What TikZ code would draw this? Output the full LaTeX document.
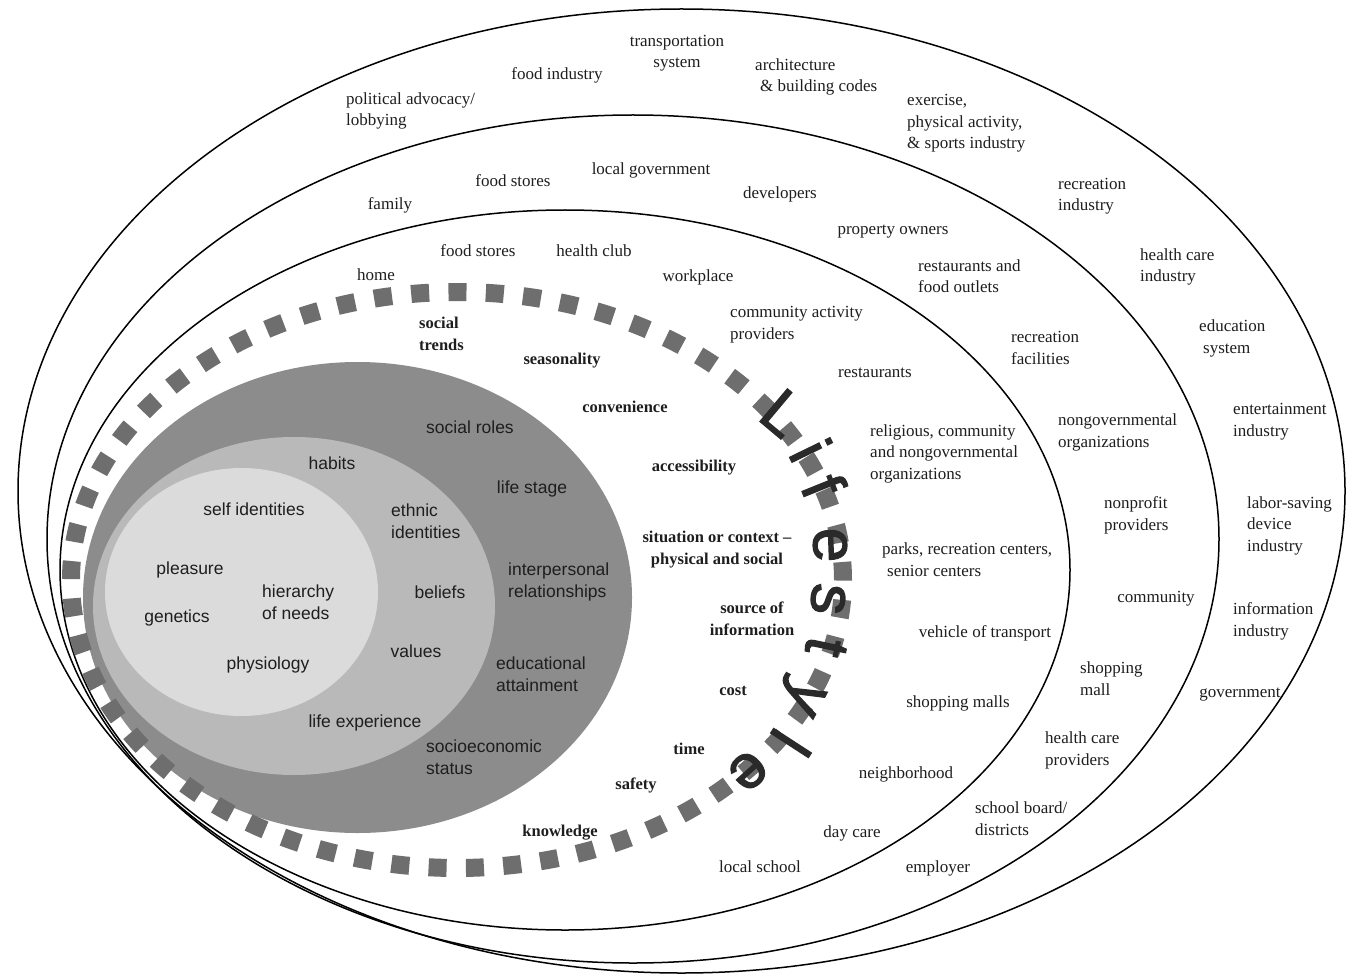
\documentclass[tikz,border=0pt]{standalone}
\usepackage{fontspec}
\setmainfont{Liberation Serif}
\setsansfont{Liberation Sans}
\newfontfamily\lifefont{Liberation Sans}[FakeBold=2]
\definecolor{inkc}{HTML}{1E1E1E}
\definecolor{zonedark}{HTML}{8C8C8C}
\definecolor{zonemid}{HTML}{B9B9B9}
\definecolor{zonelight}{HTML}{DBDBDB}
\definecolor{sqgray}{HTML}{6E6E6E}
\definecolor{letterc}{HTML}{2A2A2A}
\begin{document}
\begin{tikzpicture}[x=1pt,y=-1pt,
  boundary/.style={draw=black, line width=1.5pt},
  lab/.style={inner sep=0pt, text=inkc, font=\fontsize{17}{21.5}\selectfont},
  blab/.style={inner sep=0pt, text=inkc, font=\fontsize{16.5}{21.5}\selectfont\bfseries},
  slab/.style={inner sep=0pt, text=inkc, font=\sffamily\fontsize{17.5}{22}\selectfont},
  lw/.style={anchor=base west, align=left},
  lc/.style={anchor=base, align=center},
  glyph/.style={inner sep=0pt, text=letterc, font=\lifefont\fontsize{62}{62}\selectfont},
  squares/.style={draw=sqgray, line width=18pt, dash pattern=on 18pt off 19.34pt}
]
\useasboundingbox (0,0) rectangle (1354,976);
\fill[white] (0,0) rectangle (1354,976);

% nested rings of influence
\draw[boundary] (681.5,491) ellipse [x radius=663.5pt, y radius=482pt];
\draw[boundary] (633,539) ellipse [x radius=586pt, y radius=424pt];
\draw[boundary] (565,570) ellipse [x radius=505pt, y radius=360pt];

% individual factors: shaded core
\fill[zonedark] (357.5,597.5) ellipse [x radius=274.5pt, y radius=235.5pt];
\fill[zonemid] (294,606) ellipse [x radius=201pt, y radius=169pt];
\fill[zonelight] (241.5,592) ellipse [x radius=136.5pt, y radius=124pt];

% lifestyle ring of squares
\draw[squares] (457,580) ellipse [x radius=386pt, y radius=288pt];

% outer ring: macro-level sectors (multi-line nodes sit on their last baseline)
\node[lab,lc] (transp) at (677,68) {transportation\\system};
\node[lab,lc] (foodind) at (557,80) {food industry};
\node[lab,lw] (archi) at (755,92) {architecture\\\hspace{5pt}\& building codes};
\node[lab,lw] (politic) at (346,126) {political advocacy/\\lobbying};
\node[lab,lw] (exerc) at (907,149) {exercise,\\physical activity,\\\& sports industry};
\node[lab,lw] (recind) at (1058,211) {recreation\\industry};
\node[lab,lw] (hcind) at (1140,282) {health care\\industry};
\node[lab,lw] (edusys) at (1199,353) {education\\\hspace{4pt}system};
\node[lab,lw] (entind) at (1233,436) {entertainment\\industry};
\node[lab,lw] (labor) at (1247,551) {labor-saving\\device\\industry};
\node[lab,lw] (infoind) at (1233,636) {information\\industry};
\node[lab,lc] (govt) at (1240,697) {government};

% middle ring: community-level settings
\node[lab,lc] (localgov) at (651,175) {local government};
\node[lab,lc] (fstores2) at (513,187) {food stores};
\node[lab,lc] (family) at (390,210) {family};
\node[lab,lc] (develop) at (780,199) {developers};
\node[lab,lc] (propown) at (893,235) {property owners};
\node[lab,lw] (restfood) at (918,293) {restaurants and\\food outlets};
\node[lab,lw] (recfac) at (1011,364) {recreation\\facilities};
\node[lab,lw] (ngo) at (1058,447) {nongovernmental\\organizations};
\node[lab,lw] (nonprof) at (1104,530) {nonprofit\\providers};
\node[lab,lc] (commun) at (1156,602) {community};
\node[lab,lw] (shopmall) at (1080,695) {shopping\\mall};
\node[lab,lw] (hcprov) at (1045,765) {health care\\providers};
\node[lab,lw] (school) at (975,835) {school board/\\districts};
\node[lab,lc] (employer) at (938,872) {employer};

% inner ring: immediate settings
\node[lab,lc] (home) at (376,280) {home};
\node[lab,lc] (fstores1) at (478,257) {food stores};
\node[lab,lc] (hclub) at (594,257) {health club};
\node[lab,lc] (workpl) at (698,282) {workplace};
\node[lab,lw] (commact) at (730,339) {community activity\\providers};
\node[lab,lc] (rest) at (875,377) {restaurants};
\node[lab,lw] (relig) at (870,479) {religious, community\\and nongovernmental\\organizations};
\node[lab,lw] (parks) at (882,576) {parks, recreation centers,\\\hspace{5pt}senior centers};
\node[lab,lc] (vehicle) at (985,637) {vehicle of transport};
\node[lab,lc] (malls) at (958,707) {shopping malls};
\node[lab,lc] (neighb) at (906,778) {neighborhood};
\node[lab,lc] (daycare) at (852,837) {day care};
\node[lab,lc] (lschool) at (760,872) {local school};

% lifestyle conditions
\node[blab,lw] (trends) at (419,350) {social\\trends};
\node[blab,lc] (season) at (562,364) {seasonality};
\node[blab,lc] (conven) at (625,412) {convenience};
\node[blab,lc] (access) at (694,471) {accessibility};
\node[blab,lc] (situ) at (717,564) {situation or context --\\physical and social};
\node[blab,lc] (source) at (752,635) {source of\\information};
\node[blab,lc] (cost) at (733,695) {cost};
\node[blab,lc] (time) at (689,754) {time};
\node[blab,lc] (safety) at (636,789) {safety};
\node[blab,lc] (knowl) at (560,836) {knowledge};

% individual factors
\node[slab,lc] (sroles) at (470,433) {social roles};
\node[slab,lc] (habits) at (332,469) {habits};
\node[slab,lc] (lstage) at (532,493) {life stage};
\node[slab,lc] (selfid) at (254,515) {self identities};
\node[slab,lw] (ethnic) at (391,538) {ethnic\\identities};
\node[slab,lc] (pleas) at (190,574) {pleasure};
\node[slab,lw] (interp) at (508,597) {interpersonal\\relationships};
\node[slab,lw] (hier) at (262,619) {hierarchy\\of needs};
\node[slab,lc] (beliefs) at (440,598) {beliefs};
\node[slab,lc] (genet) at (177,622) {genetics};
\node[slab,lc] (values) at (416,657) {values};
\node[slab,lc] (physio) at (268,669) {physiology};
\node[slab,lw] (educ) at (496,691) {educational\\attainment};
\node[slab,lc] (lifeexp) at (365,727) {life experience};
\node[slab,lw] (socio) at (426,774) {socioeconomic\\status};

% the word Lifestyle set along the ring
\node[glyph,rotate=-40] (g1) at (783,413) {L};
\node[glyph,rotate=-64] (g2) at (811,450) {i};
\node[glyph,rotate=-68] (g3) at (824,486) {f};
\node[glyph,rotate=-88] (g4) at (830,545) {e};
\node[glyph,rotate=-95] (g5) at (828,599) {s};
\node[glyph,rotate=-102] (g6) at (826,647) {t};
\node[glyph,rotate=-118] (g7) at (800,695) {y};
\node[glyph,rotate=-123] (g8) at (791,743) {l};
\node[glyph,rotate=-138] (g9) at (748,771) {e};
\end{tikzpicture}
\end{document}
